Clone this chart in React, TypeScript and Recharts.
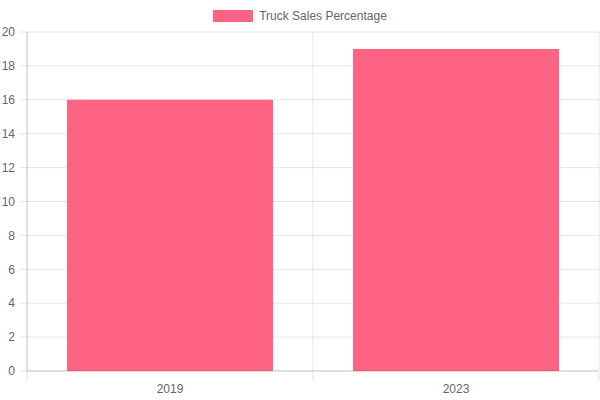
import { BarChart, Bar, XAxis, YAxis, CartesianGrid } from "recharts";

const YEARS = ["2019", "2023"];
const TRUCK_SALES = [16, 19];
const Y_TICKS = [0, 2, 4, 6, 8, 10, 12, 14, 16, 18, 20];
const SERIES_NAME = "Truck Sales Percentage";

const data = YEARS.map((year, i) => ({ year, value: TRUCK_SALES[i], idx: i + 0.5 }));

const FONT = "'Liberation Sans', Arial, Helvetica, sans-serif";
const GRID = "rgba(0,0,0,0.1)";
const AXIS = "rgba(0,0,0,0.16)";
const TEXT = "#666";
const PINK = "#ff6384";

const NoLabel = () => <g />;

export default function App() {
  return (
    <div style={{ position: "absolute", left: 0, top: 0, width: 600, height: 400, fontFamily: FONT }}>
      <div style={{ position: "absolute", top: 9, left: 0, width: 600, display: "flex", justifyContent: "center", alignItems: "center", fontSize: 12, color: TEXT }}>
        <span style={{ display: "inline-block", width: 40, height: 12, background: PINK, marginRight: 6 }} />
        <span>{SERIES_NAME}</span>
      </div>
      <BarChart width={600} height={400} data={data} margin={{ top: 32, right: 1, left: 0, bottom: 27 }} barCategoryGap="14%">
        <CartesianGrid stroke={GRID} xAxisId="grid" />
        <XAxis
          xAxisId="cat"
          dataKey="year"
          height={1}
          tickLine={false}
          axisLine={{ stroke: AXIS }}
          tick={{ fill: TEXT, fontSize: 12, fontFamily: FONT }}
          tickMargin={7}
        />
        <XAxis
          xAxisId="grid"
          type="number"
          domain={[0, 2]}
          ticks={[0, 1, 2]}
          dataKey="idx"
          height={1}
          tick={<NoLabel />}
          tickSize={9}
          tickLine={{ stroke: GRID }}
          axisLine={false}
        />
        <YAxis
          domain={[0, 20]}
          ticks={Y_TICKS}
          width={27}
          tickSize={7}
          tickMargin={5}
          tickLine={{ stroke: GRID }}
          axisLine={{ stroke: AXIS }}
          tick={{ fill: TEXT, fontSize: 12, fontFamily: FONT }}
        />
        <Bar xAxisId="cat" dataKey="value" fill={PINK} isAnimationActive={false} />
      </BarChart>
    </div>
  );
}
